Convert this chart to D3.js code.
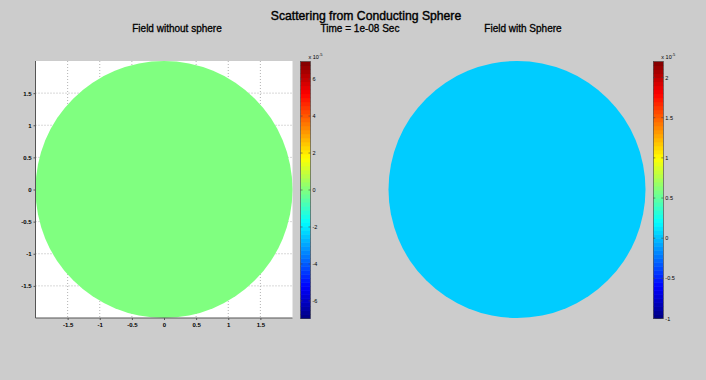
<!DOCTYPE html>
<html>
<head>
<meta charset="utf-8">
<script src="https://cdn.jsdelivr.net/npm/d3@7"></script>
<style>
  html, body { margin: 0; padding: 0; background: #cccccc; }
  svg { display: block; }
  text { font-family: "Liberation Sans", Arial, Helvetica, sans-serif; fill: #000; }
</style>
</head>
<body>
<svg id="chart" width="706" height="380"></svg>
<script>
// ---- data ----
const mainTitle = "Scattering from Conducting Sphere";
const panelTitles = ["Field without sphere", "Time = 1e-08 Sec", "Field with Sphere"];
const axisDomain = [-2, 2];
const axisTicks = [-1.5, -1, -0.5, 0, 0.5, 1, 1.5];
const sphereRadius = 2;
const fieldValues = [0, 0.04];            // field value shown inside each disc
const leftCbarDomain = [-6.95, 6.95];
const leftCbarTicks = [-6, -4, -2, 0, 2, 4, 6];
const leftCbarExponent = "-5";
const rightCbarDomain = [-1, 2.2];
const rightCbarTicks = [-1, -0.5, 0, 0.5, 1, 1.5, 2];
const rightCbarExponent = "-5";

// ---- jet colormap ----
function jet(t) {
  t = Math.max(0, Math.min(1, t));
  const c = v => Math.round(255 * Math.max(0, Math.min(1, v)));
  return d3.rgb(c(1.5 - Math.abs(4 * t - 3)), c(1.5 - Math.abs(4 * t - 2)), c(1.5 - Math.abs(4 * t - 1))).formatHex();
}

const svg = d3.select("#chart");
svg.append("rect").attr("width", 706).attr("height", 380).attr("fill", "#cccccc");

// titles
svg.append("text").attr("x", 366).attr("y", 20).attr("text-anchor", "middle")
  .attr("font-size", 12.2).attr("stroke", "#000").attr("stroke-width", 0.4).text(mainTitle);
const titleX = [177, 360, 523];
panelTitles.forEach((t, i) => {
  svg.append("text").attr("x", titleX[i]).attr("y", 32).attr("text-anchor", "middle")
    .attr("font-size", 10).attr("stroke", "#000").attr("stroke-width", 0.3).text(t);
});

// ---- left axes ----
const xL = d3.scaleLinear().domain(axisDomain).range([35.5, 292.5]);
const yL = d3.scaleLinear().domain(axisDomain).range([318, 61]);
const gL = svg.append("g");
gL.append("rect").attr("x", xL(-2)).attr("y", yL(2)).attr("width", xL(2) - xL(-2)).attr("height", yL(-2) - yL(2)).attr("fill", "#fff");
// grid
gL.selectAll(".gx").data(axisTicks).join("line")
  .attr("x1", d => xL(d)).attr("x2", d => xL(d)).attr("y1", yL(2)).attr("y2", yL(-2))
  .attr("stroke", "#a0a0a0").attr("stroke-width", 0.8).attr("stroke-dasharray", "1,2");
gL.selectAll(".gy").data(axisTicks).join("line")
  .attr("y1", d => yL(d)).attr("y2", d => yL(d)).attr("x1", xL(-2)).attr("x2", xL(2))
  .attr("stroke", "#a0a0a0").attr("stroke-width", 0.8).attr("stroke-dasharray", "1,2");
// disc
const cbL = d3.scaleLinear().domain(leftCbarDomain).range([0, 1]);
gL.append("circle").attr("cx", xL(0)).attr("cy", yL(0)).attr("r", xL(sphereRadius) - xL(0))
  .attr("fill", jet(cbL(fieldValues[0])));
// axes
const axBot = d3.axisBottom(xL).tickValues(axisTicks).tickSize(2).tickPadding(3).tickFormat(d => String(d));
const axLeft = d3.axisLeft(yL).tickValues(axisTicks).tickSize(2).tickPadding(2).tickFormat(d => String(d));
const gxa = gL.append("g").attr("transform", `translate(0,${yL(-2)})`).call(axBot);
const gya = gL.append("g").attr("transform", `translate(${xL(-2)},0)`).call(axLeft);
[gxa, gya].forEach(g => {
  g.select(".domain").attr("stroke", "#555").attr("stroke-width", 1);
  g.selectAll(".tick line").attr("stroke", "#555");
  g.selectAll(".tick text").attr("font-size", 6).attr("font-weight", "bold")
    .attr("font-family", "Liberation Sans, Arial, sans-serif").attr("fill", "#222");
});
gxa.select(".domain").attr("d", `M${xL(-2)},0H${xL(2)}`);
gya.select(".domain").attr("d", `M0,${yL(2)}V${yL(-2)}`);

// ---- right panel (axis off) ----
const xR = d3.scaleLinear().domain(axisDomain).range([388.5, 645.5]);
const yR = yL;
const cbR = d3.scaleLinear().domain(rightCbarDomain).range([0, 1]);
svg.append("circle").attr("cx", xR(0)).attr("cy", yR(0)).attr("r", xR(sphereRadius) - xR(0))
  .attr("fill", jet(cbR(fieldValues[1])));

// ---- colorbars ----
function colorbar(x0, width, domain, ticks, exponent, fmt) {
  const y = d3.scaleLinear().domain(domain).range([318.5, 61.5]);
  const g = svg.append("g");
  const n = 64;
  const bands = d3.range(n);
  const step = (domain[1] - domain[0]) / n;
  g.selectAll("rect.band").data(bands).join("rect")
    .attr("x", x0).attr("width", width)
    .attr("y", i => y(domain[0] + (i + 1) * step))
    .attr("height", i => y(domain[0] + i * step) - y(domain[0] + (i + 1) * step) + 0.5)
    .attr("fill", i => jet((i + 0.5) / n));
  g.append("rect").attr("x", x0).attr("y", y(domain[1])).attr("width", width)
    .attr("height", y(domain[0]) - y(domain[1])).attr("fill", "none").attr("stroke", "#444").attr("stroke-width", 0.6);
  g.selectAll("line.t").data(ticks).join("line")
    .attr("x1", x0 + width - 2).attr("x2", x0 + width).attr("y1", d => y(d)).attr("y2", d => y(d))
    .attr("stroke", "#444").attr("stroke-width", 0.6);
  g.selectAll("line.t2").data(ticks).join("line")
    .attr("x1", x0).attr("x2", x0 + 2).attr("y1", d => y(d)).attr("y2", d => y(d))
    .attr("stroke", "#444").attr("stroke-width", 0.6);
  g.selectAll("text.l").data(ticks).join("text")
    .attr("x", x0 + width + 2).attr("y", d => y(d) + 2)
    .attr("font-size", 5.5).attr("fill", "#222").text(fmt);
  const ex = g.append("text").attr("x", x0 + width - 2).attr("y", 58.5).attr("font-size", 5.5).attr("fill", "#444");
  ex.append("tspan").text("x 10");
  ex.append("tspan").attr("dy", -2.5).attr("font-size", 4).text(exponent);
}
colorbar(300.5, 10, leftCbarDomain, leftCbarTicks, leftCbarExponent, d => String(d));
colorbar(653.3, 10, rightCbarDomain, rightCbarTicks, rightCbarExponent, d => String(d));
</script>
</body>
</html>
